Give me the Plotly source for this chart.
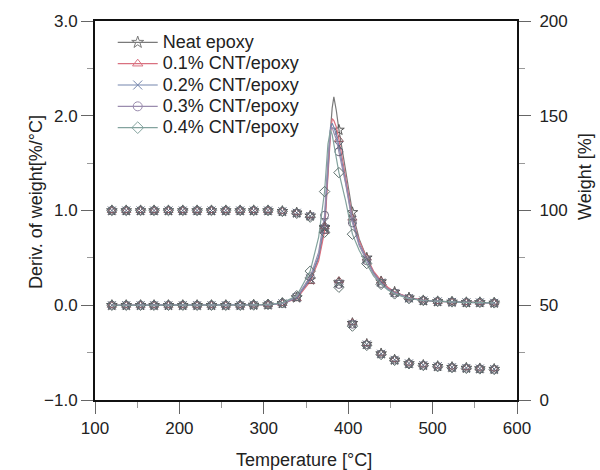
import plotly.graph_objects as go

# ---------------- data ----------------
series_names = ["Neat epoxy", "0.1% CNT/epoxy", "0.2% CNT/epoxy", "0.3% CNT/epoxy", "0.4% CNT/epoxy"]

# temperatures where markers are drawn
T_marks = [120, 137, 154, 170, 187, 204, 221, 238, 255, 272, 288, 305, 322, 339, 355,
           372, 389, 405, 422, 439, 455, 472, 489, 506, 523, 540, 556, 573]

# temperatures of the derivative curves (denser around the peak)
T_line = [120, 137, 154, 170, 187, 204, 221, 238, 255, 272, 288, 305, 322, 339, 355, 365,
          372, 376, 379, 381, 383, 386, 389, 397, 405, 413, 422, 430, 439, 447, 455,
          472, 489, 506, 523, 540, 556, 573]

deriv_neat = [0.0, 0.0, 0.0, 0.0, 0.0, 0.0, 0.0, 0.0, 0.0, 0.0, 0.003, 0.006, 0.02, 0.08, 0.27, 0.50,
              0.82, 1.45, 1.85, 2.08, 2.20, 2.05, 1.85, 1.42, 0.98, 0.70, 0.50, 0.35, 0.25, 0.18, 0.14,
              0.08, 0.05, 0.04, 0.035, 0.03, 0.03, 0.025]
deriv_01 = [0.0, 0.0, 0.0, 0.0, 0.0, 0.0, 0.0, 0.0, 0.0, 0.0, 0.003, 0.006, 0.02, 0.07, 0.25, 0.47,
            0.78, 1.40, 1.80, 1.97, 1.95, 1.88, 1.75, 1.35, 0.92, 0.68, 0.50, 0.36, 0.26, 0.19, 0.14,
            0.08, 0.055, 0.04, 0.035, 0.03, 0.03, 0.025]
deriv_02 = [0.0, 0.0, 0.0, 0.0, 0.0, 0.0, 0.0, 0.0, 0.0, 0.0, 0.003, 0.006, 0.02, 0.08, 0.28, 0.52,
            0.88, 1.50, 1.88, 1.92, 1.88, 1.80, 1.68, 1.30, 0.90, 0.65, 0.48, 0.34, 0.24, 0.17, 0.13,
            0.075, 0.05, 0.04, 0.035, 0.03, 0.03, 0.025]
deriv_03 = [0.0, 0.0, 0.0, 0.0, 0.0, 0.0, 0.0, 0.0, 0.0, 0.0, 0.003, 0.006, 0.02, 0.09, 0.30, 0.56,
            0.95, 1.55, 1.85, 1.88, 1.82, 1.75, 1.62, 1.28, 0.87, 0.63, 0.47, 0.33, 0.23, 0.17, 0.13,
            0.075, 0.05, 0.04, 0.035, 0.03, 0.03, 0.025]
deriv_04 = [0.0, 0.0, 0.0, 0.0, 0.0, 0.0, 0.0, 0.0, 0.0, 0.0, 0.003, 0.008, 0.025, 0.10, 0.36, 0.72,
            1.20, 1.70, 1.85, 1.80, 1.70, 1.55, 1.40, 1.10, 0.75, 0.58, 0.44, 0.31, 0.22, 0.16, 0.12,
            0.07, 0.05, 0.04, 0.035, 0.03, 0.03, 0.025]

weight_neat = [100, 100, 100, 100, 100, 100, 100, 100, 100, 100, 100, 100, 99.6, 98.8, 97.2,
               91.0, 62.0, 40.5, 29.5, 24.5, 21.2, 19.3, 18.4, 17.8, 17.3, 16.9, 16.6, 16.3]
weight_01 = [100, 100, 100, 100, 100, 100, 100, 100, 100, 100, 100, 100, 99.6, 98.9, 97.4,
             91.5, 63.0, 41.0, 29.8, 24.7, 21.4, 19.5, 18.6, 18.0, 17.5, 17.1, 16.8, 16.5]
weight_02 = [100, 100, 100, 100, 100, 100, 100, 100, 100, 100, 100, 100, 99.6, 98.8, 97.1,
             90.5, 61.5, 40.2, 29.3, 24.4, 21.2, 19.3, 18.4, 17.8, 17.3, 16.9, 16.6, 16.3]
weight_03 = [100, 100, 100, 100, 100, 100, 100, 100, 100, 100, 100, 100, 99.5, 98.7, 97.0,
             90.0, 61.0, 40.0, 29.2, 24.3, 21.1, 19.2, 18.3, 17.7, 17.2, 16.8, 16.5, 16.2]
weight_04 = [100, 100, 100, 100, 100, 100, 100, 100, 100, 100, 100, 100, 99.5, 98.5, 96.5,
             88.5, 59.5, 39.0, 28.8, 24.0, 20.9, 19.1, 18.2, 17.6, 17.1, 16.7, 16.4, 16.1]

x_ticks = [100, 200, 300, 400, 500, 600]
y_left_ticks = [-1.0, 0.0, 1.0, 2.0, 3.0]
y_right_ticks = [0, 50, 100, 150, 200]

# ---------------- styles ----------------
colors = ["#7a7a7a", "#d9707f", "#7486ad", "#9a8cae", "#83a39e"]
symbols = ["star-open", "triangle-up-open", "x-thin-open", "circle-open", "diamond-open"]
marker_colors = ["#555555", "#8a5a62", "#5a6378", "#6b6478", "#5f716e"]

derivs = [deriv_neat, deriv_01, deriv_02, deriv_03, deriv_04]
weights = [weight_neat, weight_01, weight_02, weight_03, weight_04]

fig = go.Figure()
for name, col, mcol, sym, d, w in zip(series_names, colors, marker_colors, symbols, derivs, weights):
    # derivative curve line
    fig.add_trace(go.Scatter(x=T_line, y=d, mode="lines", line=dict(color=col, width=1.2),
                             showlegend=False, hoverinfo="skip"))
    # derivative markers (subset of curve points)
    dm = [d[T_line.index(t)] for t in T_marks]
    fig.add_trace(go.Scatter(x=T_marks, y=dm, mode="markers",
                             marker=dict(symbol=sym, size=8, color=mcol, line=dict(width=1, color=mcol)),
                             showlegend=False))
    # weight markers (right axis)
    fig.add_trace(go.Scatter(x=T_marks, y=w, mode="markers", yaxis="y2",
                             marker=dict(symbol=sym, size=8, color=mcol, line=dict(width=1, color=mcol)),
                             showlegend=False))
    # legend entry
    fig.add_trace(go.Scatter(x=[None], y=[None], mode="lines+markers",
                             name='<span style="font-size:18px">' + name + '</span>',
                             line=dict(color=col, width=1.2),
                             marker=dict(symbol=sym, size=9, color=col, line=dict(width=1, color=col))))

font_family = "Liberation Sans, Arial, sans-serif"
tick_font = dict(family=font_family, size=17, color="#222")

fig.update_layout(
    width=600, height=470,
    margin=dict(l=95, r=83, t=21, b=70),
    paper_bgcolor="white", plot_bgcolor="white",
    font=dict(family=font_family, color="#222"),
    showlegend=True,
    legend=dict(x=0.042, y=0.985, xanchor="left", yanchor="top", bgcolor="rgba(0,0,0,0)",
                font=dict(family=font_family, size=14.1, color="#222"), tracegroupgap=0,
                itemwidth=40),
    xaxis=dict(range=[100, 600], tickvals=x_ticks, ticks="outside", ticklen=12, tickwidth=1.2,
               tickcolor="#666", showline=True, linecolor="#111", linewidth=2, mirror=True,
               showgrid=False, zeroline=False, tickfont=tick_font,
               minor=dict(ticks="outside", dtick=50, ticklen=6, tickcolor="#999", tickwidth=1)),
    yaxis=dict(range=[-1, 3], tickvals=y_left_ticks, tickformat=".1f", ticks="outside", ticklen=12,
               tickwidth=1.2, tickcolor="#666", showline=True, linecolor="#111", linewidth=2,
               showgrid=False, zeroline=False, tickfont=tick_font,
               minor=dict(ticks="outside", dtick=0.5, ticklen=6, tickcolor="#999", tickwidth=1)),
    yaxis2=dict(range=[0, 200], tickvals=y_right_ticks, overlaying="y", side="right", ticks="outside",
                ticklen=12, tickwidth=1.2, tickcolor="#666", showline=True, linecolor="#111", linewidth=2,
                showgrid=False, zeroline=False, tickfont=tick_font, ticklabelstandoff=5,
                minor=dict(ticks="outside", dtick=25, ticklen=6, tickcolor="#999", tickwidth=1)),
)

ann_font = dict(family=font_family, size=18, color="#222")
fig.add_annotation(text="Temperature [°C]", xref="paper", yref="paper",
                   x=(304 - 95) / 422, y=(400 - 460) / 379, showarrow=False, font=ann_font,
                   xanchor="center", yanchor="middle")
fig.add_annotation(text="Deriv. of weight[%/°C]", xref="paper", yref="paper",
                   x=(36 - 95) / 422, y=(400 - 202) / 379, showarrow=False, font=ann_font,
                   textangle=-90, xanchor="center", yanchor="middle")
fig.add_annotation(text="Weight [%]", xref="paper", yref="paper",
                   x=(585 - 95) / 422, y=(400 - 177) / 379, showarrow=False, font=ann_font,
                   textangle=-90, xanchor="center", yanchor="middle")

fig.write_html("out.html")
